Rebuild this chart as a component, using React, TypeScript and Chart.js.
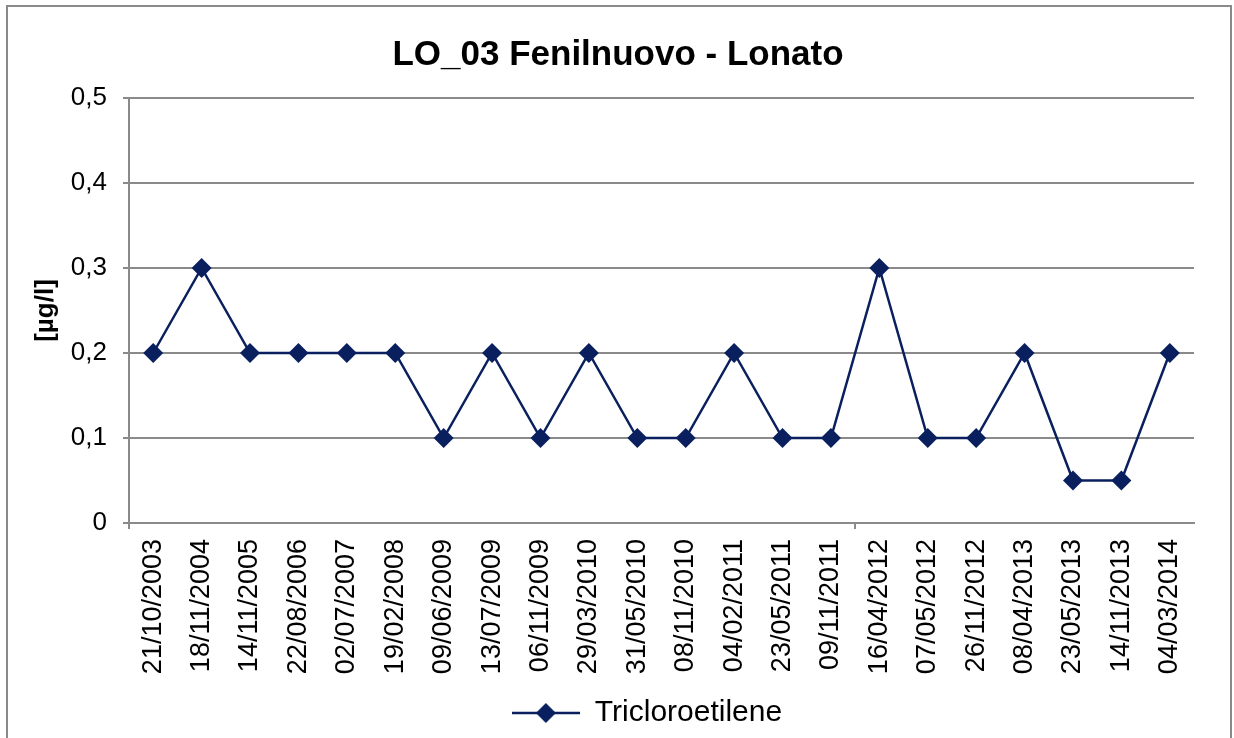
import React, { useEffect, useRef } from "react";
import { Chart, registerables } from "chart.js";

Chart.register(...registerables);

const chartTitle = "LO_03 Fenilnuovo - Lonato";
const yAxisTitle = "[µg/l]";
const seriesName = "Tricloroetilene";
const categories = [
  "21/10/2003", "18/11/2004", "14/11/2005", "22/08/2006", "02/07/2007",
  "19/02/2008", "09/06/2009", "13/07/2009", "06/11/2009", "29/03/2010",
  "31/05/2010", "08/11/2010", "04/02/2011", "23/05/2011", "09/11/2011",
  "16/04/2012", "07/05/2012", "26/11/2012", "08/04/2013", "23/05/2013",
  "14/11/2013", "04/03/2014",
];
const values = [
  0.2, 0.3, 0.2, 0.2, 0.2, 0.2, 0.1, 0.2, 0.1, 0.2, 0.1, 0.1, 0.2, 0.1, 0.1,
  0.3, 0.1, 0.1, 0.2, 0.05, 0.05, 0.2,
];
const yMin = 0;
const yMax = 0.5;
const yStep = 0.1;
const xTickMarkIndices = [0, 15];

const NAVY = "#0a1f5e";
const GRAY = "#8a8a8a";
const FONT = "'Liberation Sans', Arial, Helvetica, sans-serif";

function makeLegendIcon(): HTMLCanvasElement {
  const c = document.createElement("canvas");
  c.width = 68;
  c.height = 22;
  const ctx = c.getContext("2d")!;
  ctx.strokeStyle = NAVY;
  ctx.lineWidth = 2.5;
  ctx.beginPath();
  ctx.moveTo(0, 11);
  ctx.lineTo(68, 11);
  ctx.stroke();
  ctx.fillStyle = NAVY;
  ctx.beginPath();
  ctx.moveTo(34, 1);
  ctx.lineTo(44, 11);
  ctx.lineTo(34, 21);
  ctx.lineTo(24, 11);
  ctx.closePath();
  ctx.fill();
  return c;
}

const borderPlugin = {
  id: "outerBorder",
  beforeDraw(chart: any) {
    const ctx = chart.ctx;
    ctx.save();
    ctx.fillStyle = "#ffffff";
    ctx.fillRect(0, 0, chart.width, chart.height);
    ctx.strokeStyle = GRAY;
    ctx.lineWidth = 2;
    ctx.strokeRect(7, 6, 1224, 760);
    ctx.restore();
  },
  afterLayout(chart: any) {
    const t = chart.titleBlock;
    if (t) {
      t.left += 16;
      t.right += 16;
    }
    const l = chart.legend;
    if (l) {
      l.left += 45;
      l.right += 45;
    }
  },
};

export default function App() {
  const ref = useRef<HTMLCanvasElement>(null);

  useEffect(() => {
    if (!ref.current) return;
    const icon = makeLegendIcon();
    const chart = new Chart(ref.current, {
      type: "line",
      data: {
        labels: categories,
        datasets: [
          {
            label: seriesName,
            data: values,
            borderColor: NAVY,
            backgroundColor: NAVY,
            borderWidth: 2.5,
            pointStyle: "rectRot",
            pointRadius: 10,
            pointHoverRadius: 10,
            pointBackgroundColor: NAVY,
            pointBorderColor: NAVY,
            pointBorderWidth: 0,
            tension: 0,
            fill: false,
          },
        ],
      },
      options: {
        responsive: false,
        animation: false,
        devicePixelRatio: 1,
        layout: { padding: { left: 10, right: 40, top: 10, bottom: 0 } },
        plugins: {
          title: {
            display: true,
            text: chartTitle,
            color: "#000",
            font: { family: FONT, size: 35, weight: "bold" },
            padding: { top: 24, bottom: 22 },
          },
          legend: {
            display: true,
            position: "bottom",
            labels: {
              usePointStyle: true,
              pointStyleWidth: 68,
              padding: 9,
              color: "#000",
              font: { family: FONT, size: 30 },
              generateLabels: () => [
                {
                  text: seriesName,
                  pointStyle: icon as any,
                  fillStyle: NAVY,
                  strokeStyle: NAVY,
                  lineWidth: 0,
                  hidden: false,
                  datasetIndex: 0,
                },
              ],
            },
          },
          tooltip: { enabled: false },
        },
        scales: {
          x: {
            type: "category",
            offset: true,
            grid: {
              offset: true,
              drawOnChartArea: false,
              drawTicks: true,
              tickLength: 6,
              lineWidth: 2,
              color: (ctx: any) =>
                xTickMarkIndices.includes(ctx.index) ? GRAY : "rgba(0,0,0,0)",
            },
            border: { display: true, color: GRAY, width: 2 },
            ticks: {
              autoSkip: false,
              minRotation: 90,
              maxRotation: 90,
              padding: 10,
              color: "#000",
              font: { family: FONT, size: 27 },
            },
            afterFit: (scale: any) => {
              scale.height = 166;
            },
          },
          y: {
            min: yMin,
            max: yMax,
            grid: {
              color: GRAY,
              lineWidth: 2,
              drawTicks: true,
              tickLength: 6,
            },
            border: { display: true, color: GRAY, width: 2 },
            ticks: {
              stepSize: yStep,
              padding: 16,
              color: "#000",
              font: { family: FONT, size: 26 },
              callback: (v: any) => {
                const n = Number(v);
                if (n === 0) return "0";
                return n.toFixed(1).replace(".", ",");
              },
            },
            title: {
              display: true,
              text: yAxisTitle,
              color: "#000",
              font: { family: FONT, size: 26, weight: "bold" },
              padding: { top: 20, bottom: 0 },
            },
            afterFit: (scale: any) => {
              scale.width = 119;
            },
          },
        },
      },
      plugins: [borderPlugin],
    });
    return () => chart.destroy();
  }, []);

  return (
    <div style={{ position: "absolute", left: 0, top: 0, width: 1234, height: 738, background: "#fff" }}>
      <canvas ref={ref} width={1234} height={738} style={{ display: "block" }} />
    </div>
  );
}
